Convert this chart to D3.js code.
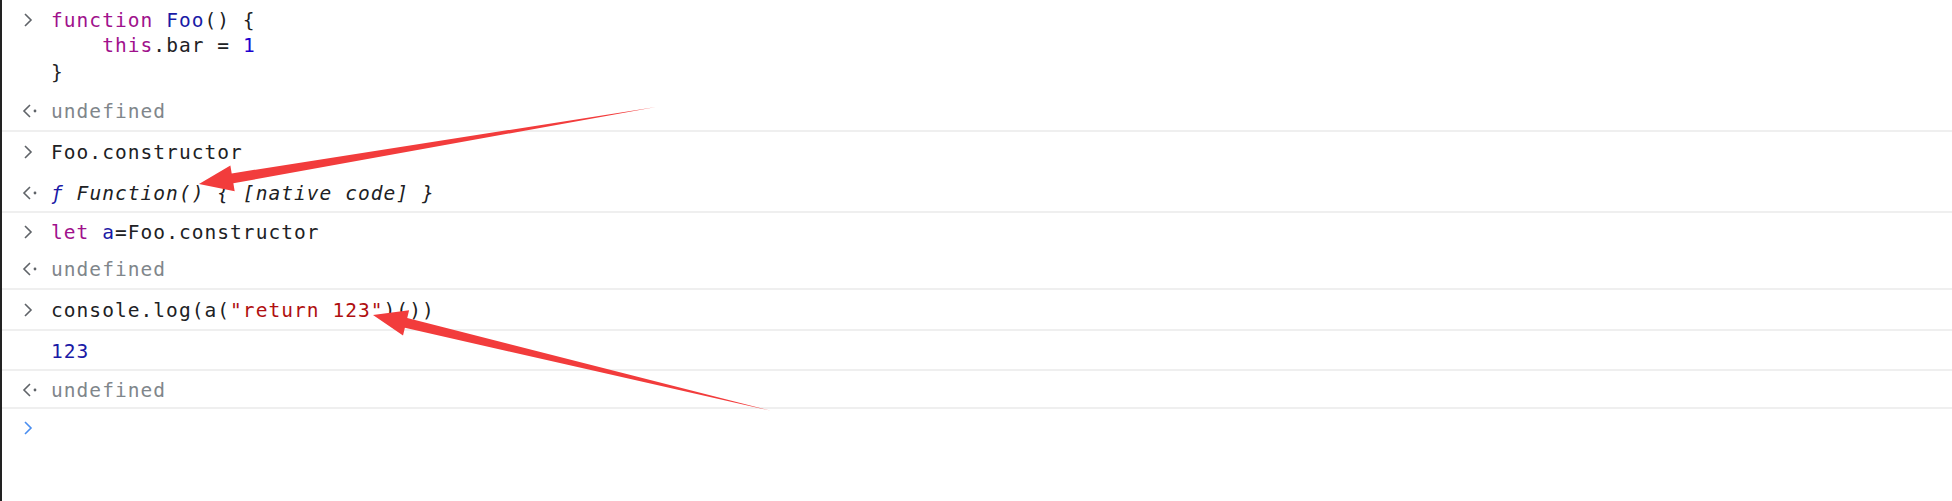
<!DOCTYPE html>
<html>
<head>
<meta charset="UTF-8">
<title>console</title>
<script src="https://d3js.org/d3.v7.min.js"></script>
<style>
  body { margin: 0; background: #fff; }
  svg { display: block; }
</style>
</head>
<body>
<svg id="svg" width="1952" height="501"></svg>
<script>
// console rows: kind of icon, indent (chars), tokens [text, colour key]
var rowIcons = ["in", "", "", "out", "in", "out", "in", "out", "in", "", "out", "prompt"];
var rowIndent = [0, 4, 0, 0, 0, 0, 0, 0, 0, 0, 0, 0];
var rowCenters = [20, 45, 72, 111, 152, 193, 232, 269, 310, 351, 390, 428];
var rowTokens = [
  [["function ", "kw"], ["Foo", "name"], ["() {", "plain"]],
  [["this", "kw"], [".bar = ", "plain"], ["1", "num"]],
  [["}", "plain"]],
  [["undefined", "grey"]],
  [["Foo.constructor", "plain"]],
  [["ƒ ", "fn"], ["Function() { [native code] }", "italic"]],
  [["let ", "kw"], ["a", "name"], ["=Foo.constructor", "plain"]],
  [["undefined", "grey"]],
  [["console.log(a(", "plain"], ["\"return 123\"", "str"], [")())", "plain"]],
  [["123", "name"]],
  [["undefined", "grey"]],
  []
];
var separators = [131, 212, 289, 330, 370, 408];
// arrows: tail (x,y) -> tip (x,y)
var arrows = [
  [[656, 107], [199, 184]],
  [[772, 411], [373, 315]]
];

var colours = {
  kw: "#a0118c", name: "#1a1aa6", num: "#1c00cf", plain: "#202124",
  grey: "#80868b", str: "#b01010", fn: "#1a1aa6", italic: "#202124"
};

var svg = d3.select("#svg");
var charW = 12.8, textX = 51;

svg.append("rect").attr("x", 0).attr("y", 0).attr("width", 2).attr("height", 501).attr("fill", "#222");

svg.selectAll("line.sep").data(separators).enter().append("line")
  .attr("class", "sep")
  .attr("x1", 2).attr("x2", 1952)
  .attr("y1", function (d) { return d; }).attr("y2", function (d) { return d; })
  .attr("stroke", "#efefef").attr("stroke-width", 2);

var rows = svg.selectAll("g.row").data(rowTokens).enter().append("g")
  .attr("class", "row")
  .attr("transform", function (d, i) { return "translate(0," + rowCenters[i] + ")"; });

// icons
rows.each(function (d, i) {
  var g = d3.select(this), kind = rowIcons[i];
  if (kind === "in" || kind === "prompt") {
    g.append("path").attr("d", "M25,-6 L31,0 L25,6")
      .attr("fill", "none").attr("stroke", kind === "prompt" ? "#4a8ef0" : "#5f6368").attr("stroke-width", 1.6);
  } else if (kind === "out") {
    g.append("path").attr("d", "M30,-6 L24,0 L30,6")
      .attr("fill", "none").attr("stroke", "#5f6368").attr("stroke-width", 1.6);
    g.append("circle").attr("cx", 35).attr("cy", 0).attr("r", 1.4).attr("fill", "#5f6368");
  }
  var t = g.append("text")
    .attr("x", textX + rowIndent[i] * charW).attr("y", 7)
    .attr("font-family", "'DejaVu Sans Mono', monospace")
    .attr("font-size", "19.5px")
    .attr("letter-spacing", "1.05px")
    .attr("xml:space", "preserve");
  t.selectAll("tspan").data(d).enter().append("tspan")
    .text(function (k) { return k[0]; })
    .attr("fill", function (k) { return colours[k[1]]; })
    .attr("font-style", function (k) { return (k[1] === "italic" || k[1] === "fn") ? "italic" : null; });
});

// tapered red arrows
function arrowPath(a) {
  var x0 = a[0][0], y0 = a[0][1], x1 = a[1][0], y1 = a[1][1];
  var dx = x1 - x0, dy = y1 - y0, len = Math.sqrt(dx * dx + dy * dy);
  var ux = dx / len, uy = dy / len, nx = -uy, ny = ux;
  var headL = 34, headW = 13, shaftW = 5;
  var bx = x1 - ux * headL, by = y1 - uy * headL;
  var p = d3.path();
  p.moveTo(x0, y0);
  p.lineTo(bx + nx * shaftW, by + ny * shaftW);
  p.lineTo(bx + nx * headW, by + ny * headW);
  p.lineTo(x1, y1);
  p.lineTo(bx - nx * headW, by - ny * headW);
  p.lineTo(bx - nx * shaftW, by - ny * shaftW);
  p.closePath();
  return p.toString();
}
svg.selectAll("path.arrow").data(arrows).enter().append("path")
  .attr("class", "arrow")
  .attr("d", arrowPath)
  .attr("fill", "#f23c3c");
</script>
</body>
</html>
